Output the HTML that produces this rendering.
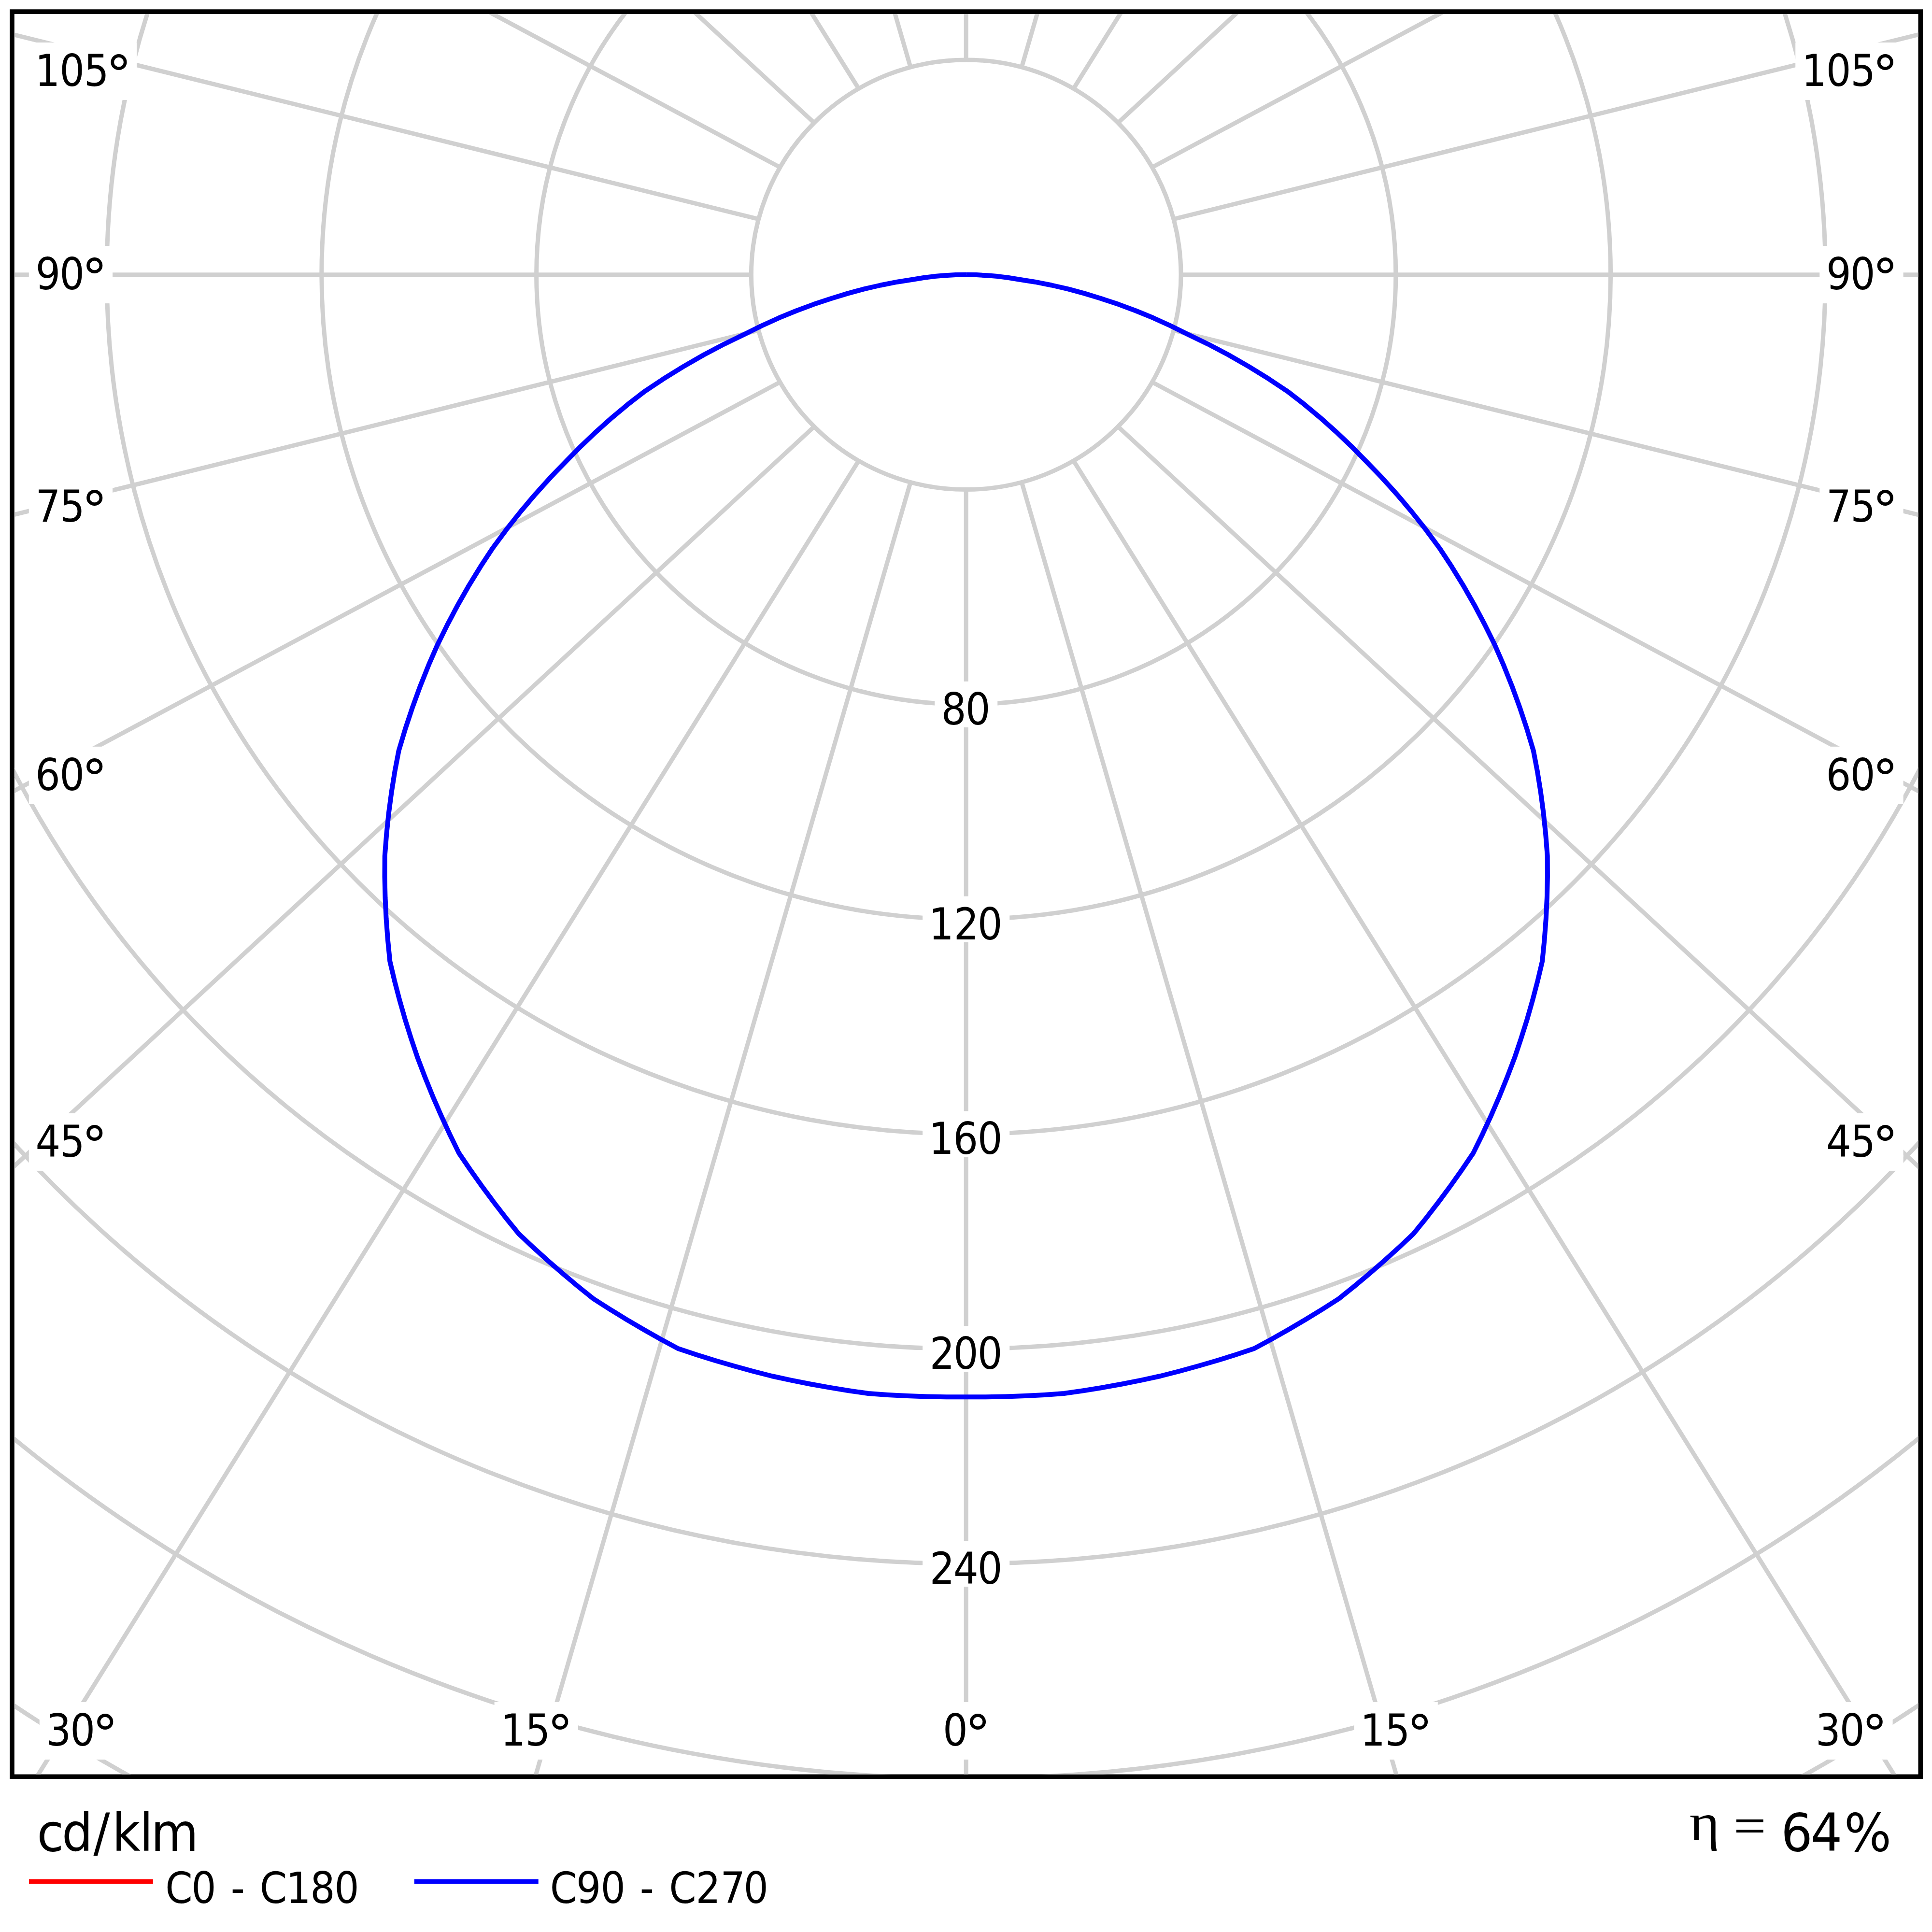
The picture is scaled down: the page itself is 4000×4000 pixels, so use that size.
<!DOCTYPE html>
<html><head><meta charset="utf-8"><title>Polar diagram</title>
<style>html,body{margin:0;padding:0;background:#fff}svg{display:block}</style></head>
<body>
<svg width="4000" height="4000" viewBox="0 0 4000 4000">
<defs><clipPath id="c"><rect x="29.8" y="28.900000000000002" width="3941.7" height="3644.6499999999996"/></clipPath></defs>
<rect x="0" y="0" width="4000" height="4000" fill="#ffffff"/>
<rect x="25.0" y="24.1" width="3951.30" height="3654.25" fill="#ffffff" stroke="#000" stroke-width="9.6"/>
<g clip-path="url(#c)">
<g fill="none" stroke="#d0d0d0" stroke-width="9.0">
<circle cx="2000.2" cy="568.75" r="444.80"/>
<circle cx="2000.2" cy="568.75" r="889.60"/>
<circle cx="2000.2" cy="568.75" r="1334.40"/>
<circle cx="2000.2" cy="568.75" r="1779.20"/>
<circle cx="2000.2" cy="568.75" r="2224.00"/>
<circle cx="2000.2" cy="568.75" r="2668.80"/>
<circle cx="2000.2" cy="568.75" r="3113.60"/>
<circle cx="2000.2" cy="568.75" r="3558.40"/>
<line x1="2000.20" y1="1013.55" x2="2000.20" y2="7013.55"/>
<line x1="2115.32" y1="998.39" x2="3785.62" y2="6761.21"/>
<line x1="2222.60" y1="953.96" x2="5400.84" y2="6043.05"/>
<line x1="2314.72" y1="883.27" x2="6720.48" y2="4956.27"/>
<line x1="2385.41" y1="791.15" x2="7678.62" y2="3616.37"/>
<line x1="2429.84" y1="683.87" x2="8253.82" y2="2126.54"/>
<line x1="2445.00" y1="568.75" x2="8445.00" y2="568.75"/>
<line x1="2429.84" y1="453.63" x2="8253.82" y2="-989.04"/>
<line x1="2385.41" y1="346.35" x2="7678.62" y2="-2478.87"/>
<line x1="2314.72" y1="254.23" x2="6720.48" y2="-3818.77"/>
<line x1="2222.60" y1="183.54" x2="5400.84" y2="-4905.55"/>
<line x1="2115.32" y1="139.11" x2="3785.62" y2="-5623.71"/>
<line x1="2000.20" y1="123.95" x2="2000.20" y2="-5876.05"/>
<line x1="1885.08" y1="139.11" x2="214.78" y2="-5623.71"/>
<line x1="1777.80" y1="183.54" x2="-1400.44" y2="-4905.55"/>
<line x1="1685.68" y1="254.23" x2="-2720.08" y2="-3818.77"/>
<line x1="1614.99" y1="346.35" x2="-3678.22" y2="-2478.87"/>
<line x1="1570.56" y1="453.63" x2="-4253.42" y2="-989.04"/>
<line x1="1555.40" y1="568.75" x2="-4444.60" y2="568.75"/>
<line x1="1570.56" y1="683.87" x2="-4253.42" y2="2126.54"/>
<line x1="1614.99" y1="791.15" x2="-3678.22" y2="3616.37"/>
<line x1="1685.68" y1="883.27" x2="-2720.08" y2="4956.27"/>
<line x1="1777.80" y1="953.96" x2="-1400.44" y2="6043.05"/>
<line x1="1885.08" y1="998.39" x2="214.78" y2="6761.21"/>
</g>
<rect x="59.80" y="88.00" width="223.35" height="119.00" fill="#ffffff"/>
<text x="72.58 123.35 173.8" y="178.2" font-family="'DejaVu Sans Condensed','DejaVu Sans','Liberation Sans',sans-serif" font-size="90.5" fill="#000">105<tspan x="219.15" y="190.78" font-family="'DejaVu Sans','Liberation Sans',sans-serif" font-size="107">°</tspan></text>
<rect x="59.80" y="509.10" width="173.30" height="119.00" fill="#ffffff"/>
<text x="73.59 123.35" y="599.3" font-family="'DejaVu Sans Condensed','DejaVu Sans','Liberation Sans',sans-serif" font-size="90.5" fill="#000">90<tspan x="169.1" y="611.88" font-family="'DejaVu Sans','Liberation Sans',sans-serif" font-size="107">°</tspan></text>
<rect x="59.80" y="990.00" width="173.30" height="119.00" fill="#ffffff"/>
<text x="73.44 123.75" y="1080.2" font-family="'DejaVu Sans Condensed','DejaVu Sans','Liberation Sans',sans-serif" font-size="90.5" fill="#000">75<tspan x="169.1" y="1092.78" font-family="'DejaVu Sans','Liberation Sans',sans-serif" font-size="107">°</tspan></text>
<rect x="59.80" y="1545.80" width="173.30" height="119.00" fill="#ffffff"/>
<text x="73 123.35" y="1636" font-family="'DejaVu Sans Condensed','DejaVu Sans','Liberation Sans',sans-serif" font-size="90.5" fill="#000">60<tspan x="169.1" y="1648.58" font-family="'DejaVu Sans','Liberation Sans',sans-serif" font-size="107">°</tspan></text>
<rect x="59.80" y="2304.90" width="173.30" height="119.00" fill="#ffffff"/>
<text x="73.59 123.75" y="2395.1" font-family="'DejaVu Sans Condensed','DejaVu Sans','Liberation Sans',sans-serif" font-size="90.5" fill="#000">45<tspan x="169.1" y="2407.68" font-family="'DejaVu Sans','Liberation Sans',sans-serif" font-size="107">°</tspan></text>
<rect x="81.80" y="3524.00" width="173.30" height="119.00" fill="#ffffff"/>
<text x="95.46 145.35" y="3614.2" font-family="'DejaVu Sans Condensed','DejaVu Sans','Liberation Sans',sans-serif" font-size="90.5" fill="#000">30<tspan x="191.1" y="3626.78" font-family="'DejaVu Sans','Liberation Sans',sans-serif" font-size="107">°</tspan></text>
<rect x="1023.60" y="3524.00" width="173.30" height="119.00" fill="#ffffff"/>
<text x="1036.38 1087.55" y="3614.2" font-family="'DejaVu Sans Condensed','DejaVu Sans','Liberation Sans',sans-serif" font-size="90.5" fill="#000">15<tspan x="1132.9" y="3626.78" font-family="'DejaVu Sans','Liberation Sans',sans-serif" font-size="107">°</tspan></text>
<rect x="1938.58" y="3524.00" width="123.25" height="119.00" fill="#ffffff"/>
<text x="1952.08" y="3614.2" font-family="'DejaVu Sans Condensed','DejaVu Sans','Liberation Sans',sans-serif" font-size="90.5" fill="#000">0<tspan x="1997.83" y="3626.78" font-family="'DejaVu Sans','Liberation Sans',sans-serif" font-size="107">°</tspan></text>
<rect x="2803.50" y="3524.00" width="173.30" height="119.00" fill="#ffffff"/>
<text x="2816.28 2867.45" y="3614.2" font-family="'DejaVu Sans Condensed','DejaVu Sans','Liberation Sans',sans-serif" font-size="90.5" fill="#000">15<tspan x="2912.8" y="3626.78" font-family="'DejaVu Sans','Liberation Sans',sans-serif" font-size="107">°</tspan></text>
<rect x="3745.30" y="3524.00" width="173.30" height="119.00" fill="#ffffff"/>
<text x="3758.96 3808.85" y="3614.2" font-family="'DejaVu Sans Condensed','DejaVu Sans','Liberation Sans',sans-serif" font-size="90.5" fill="#000">30<tspan x="3854.6" y="3626.78" font-family="'DejaVu Sans','Liberation Sans',sans-serif" font-size="107">°</tspan></text>
<rect x="3767.30" y="2304.90" width="173.30" height="119.00" fill="#ffffff"/>
<text x="3781.09 3831.25" y="2395.1" font-family="'DejaVu Sans Condensed','DejaVu Sans','Liberation Sans',sans-serif" font-size="90.5" fill="#000">45<tspan x="3876.6" y="2407.68" font-family="'DejaVu Sans','Liberation Sans',sans-serif" font-size="107">°</tspan></text>
<rect x="3767.30" y="1545.80" width="173.30" height="119.00" fill="#ffffff"/>
<text x="3780.5 3830.85" y="1636" font-family="'DejaVu Sans Condensed','DejaVu Sans','Liberation Sans',sans-serif" font-size="90.5" fill="#000">60<tspan x="3876.6" y="1648.58" font-family="'DejaVu Sans','Liberation Sans',sans-serif" font-size="107">°</tspan></text>
<rect x="3767.30" y="990.00" width="173.30" height="119.00" fill="#ffffff"/>
<text x="3780.94 3831.25" y="1080.2" font-family="'DejaVu Sans Condensed','DejaVu Sans','Liberation Sans',sans-serif" font-size="90.5" fill="#000">75<tspan x="3876.6" y="1092.78" font-family="'DejaVu Sans','Liberation Sans',sans-serif" font-size="107">°</tspan></text>
<rect x="3767.30" y="509.10" width="173.30" height="119.00" fill="#ffffff"/>
<text x="3781.09 3830.85" y="599.3" font-family="'DejaVu Sans Condensed','DejaVu Sans','Liberation Sans',sans-serif" font-size="90.5" fill="#000">90<tspan x="3876.6" y="611.88" font-family="'DejaVu Sans','Liberation Sans',sans-serif" font-size="107">°</tspan></text>
<rect x="3717.25" y="88.00" width="223.35" height="119.00" fill="#ffffff"/>
<text x="3730.03 3780.8 3831.25" y="178.2" font-family="'DejaVu Sans Condensed','DejaVu Sans','Liberation Sans',sans-serif" font-size="90.5" fill="#000">105<tspan x="3876.6" y="190.78" font-family="'DejaVu Sans','Liberation Sans',sans-serif" font-size="107">°</tspan></text>
<rect x="1935.15" y="1410.85" width="130.10" height="95.00" fill="#ffffff"/>
<text x="1948.65 1998.7" y="1499.85" font-family="'DejaVu Sans Condensed','DejaVu Sans','Liberation Sans',sans-serif" font-size="90.5" fill="#000">80</text>
<rect x="1910.12" y="1855.65" width="180.15" height="95.00" fill="#ffffff"/>
<text x="1922.9 1974.76 2023.73" y="1944.65" font-family="'DejaVu Sans Condensed','DejaVu Sans','Liberation Sans',sans-serif" font-size="90.5" fill="#000">120</text>
<rect x="1910.12" y="2300.45" width="180.15" height="95.00" fill="#ffffff"/>
<text x="1922.9 1973.37 2023.73" y="2389.45" font-family="'DejaVu Sans Condensed','DejaVu Sans','Liberation Sans',sans-serif" font-size="90.5" fill="#000">160</text>
<rect x="1910.12" y="2745.25" width="180.15" height="95.00" fill="#ffffff"/>
<text x="1924.71 1973.68 2023.73" y="2834.25" font-family="'DejaVu Sans Condensed','DejaVu Sans','Liberation Sans',sans-serif" font-size="90.5" fill="#000">200</text>
<rect x="1910.12" y="3190.05" width="180.15" height="95.00" fill="#ffffff"/>
<text x="1924.71 1973.97 2023.73" y="3279.05" font-family="'DejaVu Sans Condensed','DejaVu Sans','Liberation Sans',sans-serif" font-size="90.5" fill="#000">240</text>
<path d="M2000.2,568.8 L1978.6,569.1 L1956.9,570.3 L1935.3,572.1 L1913.8,574.8 L1892.4,578.2 L1857.7,583.7 L1823.2,590.5 L1788.9,598.4 L1754.8,607.6 L1721.0,618.0 L1684.6,630.1 L1648.5,643.5 L1612.7,658.2 L1577.4,674.2 L1542.6,691.4 L1499.3,712.4 L1456.7,734.9 L1414.7,759.0 L1373.4,784.6 L1332.8,811.7 L1299.2,837.8 L1266.3,865.3 L1234.2,893.9 L1202.8,923.8 L1172.3,954.8 L1139.9,988.3 L1108.5,1023.1 L1078.1,1059.0 L1048.6,1096.2 L1020.2,1134.6 L995.2,1172.6 L971.1,1211.8 L948.2,1251.9 L926.4,1293.1 L905.6,1335.2 L887.3,1377.3 L870.1,1420.3 L854.1,1464.2 L839.2,1508.9 L825.6,1554.3 L817.5,1596.8 L810.6,1639.9 L804.8,1683.5 L800.2,1727.6 L796.7,1772.2 L796.5,1815.2 L797.5,1858.5 L799.6,1902.2 L802.9,1946.1 L807.3,1990.4 L816.7,2030.2 L827.2,2070.2 L838.6,2110.2 L851.2,2150.2 L864.7,2190.3 L879.8,2229.9 L895.8,2269.4 L912.9,2308.8 L931.0,2348.2 L950.2,2387.4 L973.3,2421.4 L997.2,2455.1 L1022.0,2488.6 L1047.6,2521.8 L1074.2,2554.7 L1103.7,2582.4 L1133.9,2609.7 L1164.8,2636.6 L1196.3,2663.0 L1228.5,2688.9 L1262.7,2710.7 L1297.3,2731.9 L1332.5,2752.6 L1368.2,2772.8 L1404.4,2792.3 L1442.6,2805.0 L1481.2,2817.0 L1519.9,2828.3 L1558.9,2839.0 L1598.1,2849.0 L1637.7,2857.6 L1677.4,2865.5 L1717.3,2872.7 L1757.4,2879.2 L1797.6,2885.0 L1838.0,2887.9 L1878.5,2890.0 L1919.1,2891.5 L1959.6,2892.2 L2000.2,2892.2 L2040.8,2892.2 L2081.3,2891.5 L2121.9,2890.0 L2162.4,2887.9 L2202.8,2885.0 L2243.0,2879.2 L2283.1,2872.7 L2323.0,2865.5 L2362.7,2857.6 L2402.3,2849.0 L2441.5,2839.0 L2480.5,2828.3 L2519.2,2817.0 L2557.8,2805.0 L2596.0,2792.3 L2632.2,2772.8 L2667.9,2752.6 L2703.1,2731.9 L2737.7,2710.7 L2771.9,2688.9 L2804.1,2663.0 L2835.6,2636.6 L2866.5,2609.7 L2896.7,2582.4 L2926.2,2554.7 L2952.8,2521.8 L2978.4,2488.6 L3003.2,2455.1 L3027.1,2421.4 L3050.2,2387.4 L3069.4,2348.2 L3087.5,2308.8 L3104.6,2269.4 L3120.6,2229.9 L3135.7,2190.3 L3149.2,2150.2 L3161.8,2110.2 L3173.2,2070.2 L3183.7,2030.2 L3193.1,1990.4 L3197.5,1946.1 L3200.8,1902.2 L3202.9,1858.5 L3203.9,1815.2 L3203.7,1772.2 L3200.2,1727.6 L3195.6,1683.5 L3189.8,1639.9 L3182.9,1596.8 L3174.8,1554.3 L3161.2,1508.9 L3146.3,1464.2 L3130.3,1420.3 L3113.1,1377.3 L3094.8,1335.2 L3074.0,1293.1 L3052.2,1251.9 L3029.3,1211.8 L3005.2,1172.6 L2980.2,1134.6 L2951.8,1096.2 L2922.3,1059.0 L2891.9,1023.1 L2860.5,988.3 L2828.1,954.8 L2797.6,923.8 L2766.2,893.9 L2734.1,865.3 L2701.2,837.8 L2667.6,811.7 L2627.0,784.6 L2585.7,759.0 L2543.7,734.9 L2501.1,712.4 L2457.8,691.4 L2423.0,674.2 L2387.7,658.2 L2351.9,643.5 L2315.8,630.1 L2279.4,618.0 L2245.6,607.6 L2211.5,598.4 L2177.2,590.5 L2142.7,583.7 L2108.0,578.2 L2086.6,574.8 L2065.1,572.1 L2043.5,570.3 L2021.8,569.1 L2000.2,568.8" fill="none" stroke="#0000ff" stroke-width="10" stroke-linejoin="round"/>
</g>
<text transform="translate(0 3831.8) scale(1.03 1)" x="74.19 124.19 187.79 225.4 280.33 303.49" font-family="'DejaVu Sans Condensed','DejaVu Sans','Liberation Sans',sans-serif" font-size="109" fill="#000">cd/klm</text>
<line x1="60" y1="3895.5" x2="316.8" y2="3895.5" stroke="#ff0000" stroke-width="9.5"/>
<text transform="translate(0 3940.3)" x="342.15 396.26 445.65 477.82 527.21 537.8 592.33 642.21 692.31" font-family="'DejaVu Sans Condensed','DejaVu Sans','Liberation Sans',sans-serif" font-size="89.8" fill="#000">C0 - C180</text>
<line x1="857.7" y1="3895.5" x2="1114.7" y2="3895.5" stroke="#0000ff" stroke-width="9.5"/>
<text transform="translate(0 3940.3)" x="1138.75 1192.89 1243.51 1292.9 1324.87 1374.26 1385.15 1440.58 1491.39 1539.56" font-family="'DejaVu Sans Condensed','DejaVu Sans','Liberation Sans',sans-serif" font-size="89.8" fill="#000">C90 - C270</text>
<text transform="translate(0 3808.9) scale(1.11 1)" x="3151.15 3210.49 3233.26" y="0 0 7.5" font-family="'Liberation Serif','DejaVu Serif',serif" font-size="107.9" fill="#000">η =</text>
<text transform="translate(0 3831.6) scale(1.06 1)" x="3478.63 3536.56 3601.82" font-family="'DejaVu Sans Condensed','DejaVu Sans','Liberation Sans',sans-serif" font-size="108" fill="#000">64%</text>
</svg>
</body></html>
